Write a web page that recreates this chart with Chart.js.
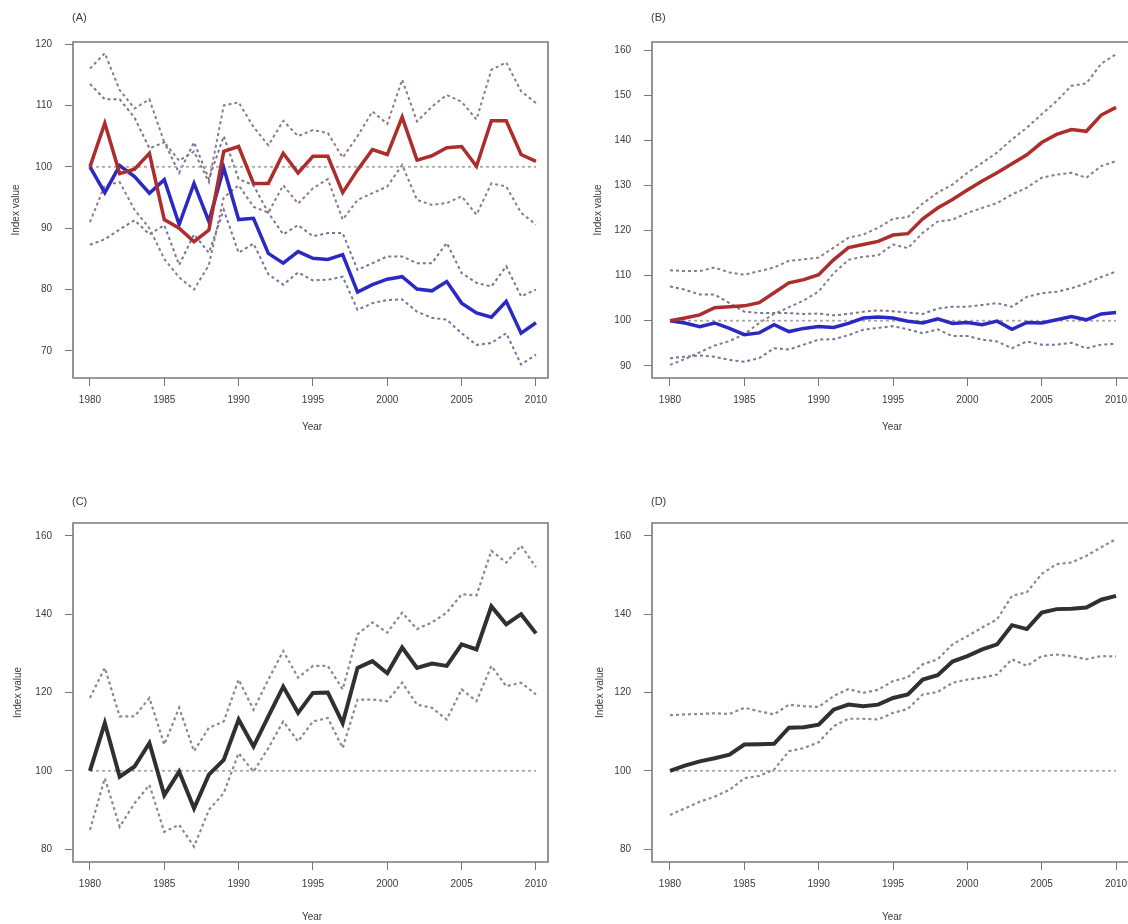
<!DOCTYPE html>
<html>
<head>
<meta charset="utf-8">
<script src="https://cdn.jsdelivr.net/npm/chart.js@4.4.1/dist/chart.umd.min.js"></script>
<style>
html, body { margin: 0; padding: 0; background: #fff; overflow: hidden; width: 1128px; height: 924px; }
.panel { position: absolute; }
</style>
</head>
<body>
<div class="panel" style="left:0;top:0"><canvas id="chartA" width="560" height="450"></canvas></div>
<div class="panel" style="left:560px;top:0;width:568px;overflow:hidden"><canvas id="chartB" width="600" height="450"></canvas></div>
<div class="panel" style="left:0;top:450px"><canvas id="chartC" width="560" height="474"></canvas></div>
<div class="panel" style="left:560px;top:450px;width:568px;overflow:hidden"><canvas id="chartD" width="600" height="474"></canvas></div>
<script>
const years = [1980,1981,1982,1983,1984,1985,1986,1987,1988,1989,1990,1991,1992,1993,1994,1995,
               1996,1997,1998,1999,2000,2001,2002,2003,2004,2005,2006,2007,2008,2009,2010];
const xTicks = [1980, 1985, 1990, 1995, 2000, 2005, 2010];
const aYTicks = [70, 80, 90, 100, 110, 120];
const bYTicks = [90, 100, 110, 120, 130, 140, 150, 160];
const cdYTicks = [80, 100, 120, 140, 160];

const refYears = [1980, 2010];
const refValues = [100, 100];

// (A)
const aRed    = [100, 107.1, 98.9, 99.6, 102.2, 91.4, 90.0, 87.8, 89.7, 102.5, 103.3, 97.3, 97.3, 102.2, 99.0, 101.7,
                 101.7, 95.8, 99.5, 102.8, 102.0, 108.1, 101.1, 101.8, 103.1, 103.3, 100.1, 107.5, 107.5, 102.0, 100.9];
const aRedUp  = [116, 118.5, 112.5, 109.5, 111, 104, 101, 102.5, 97.5, 110, 110.5, 106.5, 103.5, 107.5, 105, 106,
                 105.5, 101.5, 105, 109, 107, 114.2, 107.4, 109.8, 111.7, 110.6, 107.7, 115.8, 117, 112.3, 110.4];
const aRedLo  = [91, 97, 97.5, 93, 90, 85, 82, 80, 84, 95, 97, 93.5, 92.5, 97, 94, 96.5,
                 98, 91.4, 94.6, 95.7, 96.8, 100.3, 94.6, 93.8, 94.1, 95.2, 92.2, 97.3, 96.8, 92.5, 90.6];
const aBlue   = [100, 95.8, 100.2, 98.4, 95.7, 97.9, 90.6, 97.3, 91.1, 99.8, 91.4, 91.6, 85.9, 84.3, 86.2, 85.1,
                 84.9, 85.7, 79.6, 80.8, 81.7, 82.1, 80.1, 79.8, 81.3, 77.8, 76.2, 75.5, 78.1, 72.9, 74.6];
const aBlueUp = [113.5, 111, 111, 108, 103, 104, 99, 104, 98, 105, 98, 97, 92.5, 89, 90.5, 88.7,
                 89.2, 89.2, 83.2, 84.3, 85.4, 85.4, 84.3, 84.3, 87.6, 82.7, 81.1, 80.5, 83.8, 78.9, 80];
const aBlueLo = [87.3, 88.2, 89.8, 91.3, 89, 90.5, 84, 89, 86, 93, 86, 87.5, 82.5, 80.8, 82.8, 81.5,
                 81.6, 82.1, 76.7, 77.8, 78.3, 78.4, 76.4, 75.4, 75.1, 72.9, 71, 71.3, 72.9, 67.8, 69.4];

// (B)
const bRed    = [100, 100.6, 101.3, 102.9, 103.1, 103.3, 104.0, 106.2, 108.4, 109.1, 110.2, 113.5, 116.2, 116.9, 117.6, 119.0,
                 119.3, 122.6, 125.0, 126.9, 129.0, 131.0, 132.8, 134.8, 136.8, 139.5, 141.3, 142.4, 142.0, 145.6, 147.3];
const bRedUp  = [111.2, 111.0, 111.0, 111.8, 110.7, 110.2, 111.0, 111.8, 113.3, 113.6, 114.0, 116.2, 118.4, 119.1, 120.6, 122.6,
                 123.0, 126.0, 128.4, 130.2, 132.8, 135.0, 137.3, 140.2, 142.8, 145.8, 148.7, 152.1, 152.6, 157.0, 159.1];
const bRedLo  = [90.2, 91.5, 93.0, 94.5, 95.5, 97.0, 99.5, 101.5, 103.0, 104.5, 106.5, 110.5, 113.5, 114.2, 114.5, 116.9,
                 116.1, 119.5, 122.0, 122.4, 123.9, 125.0, 126.1, 128.0, 129.5, 131.7, 132.4, 132.8, 131.7, 134.3, 135.4];
const bBlue   = [100, 99.5, 98.7, 99.5, 98.3, 96.9, 97.3, 99.1, 97.6, 98.3, 98.7, 98.5, 99.4, 100.6, 100.8, 100.6,
                 99.9, 99.5, 100.4, 99.4, 99.6, 99.1, 99.9, 98.1, 99.6, 99.5, 100.2, 100.9, 100.2, 101.5, 101.8];
const bBlueUp = [107.6, 106.9, 105.8, 105.8, 103.9, 102.0, 101.7, 101.7, 101.7, 101.5, 101.6, 101.2, 101.5, 102.0, 102.3, 102.1,
                 101.8, 101.5, 102.7, 103.1, 103.1, 103.5, 103.9, 103.1, 105.3, 106.1, 106.4, 107.2, 108.3, 109.7, 110.9];
const bBlueLo = [91.7, 92.0, 92.3, 92.0, 91.3, 90.9, 91.7, 93.9, 93.6, 94.7, 95.8, 95.9, 96.8, 98.0, 98.4, 98.8,
                 98.1, 97.2, 98.1, 96.6, 96.6, 95.8, 95.4, 93.9, 95.4, 94.7, 94.7, 95.1, 93.9, 94.7, 94.9];

// (C)
const cMean = [100, 112.2, 98.5, 101.1, 107.1, 93.8, 99.8, 90.4, 99.0, 102.8, 113.1, 106.2, 113.9, 121.5, 114.8, 119.9,
               120.0, 112.2, 126.3, 128.0, 124.9, 131.5, 126.3, 127.4, 126.8, 132.3, 131.0, 142.0, 137.4, 140.0, 135.1];
const cUp   = [118.6, 126.3, 113.9, 113.9, 118.6, 106.7, 116.1, 105.0, 111.0, 112.6, 123.3, 115.6, 123.3, 130.6, 123.8, 126.8,
               126.8, 120.8, 134.9, 137.9, 135.3, 140.4, 136.2, 137.9, 140.4, 145.1, 144.8, 156.2, 153.2, 157.5, 152.0];
const cLo   = [84.9, 98.1, 85.7, 91.7, 96.4, 84.4, 86.2, 80.6, 90.0, 94.3, 104.5, 99.8, 105.8, 112.6, 107.5, 112.6,
               113.5, 105.8, 118.2, 118.2, 117.8, 122.5, 116.9, 116.1, 113.1, 120.8, 117.8, 126.8, 121.6, 122.5, 119.5];

// (D)
const dMean = [100, 101.3, 102.4, 103.2, 104.1, 106.7, 106.8, 106.9, 111.0, 111.1, 111.8, 115.6, 116.9, 116.5, 116.9, 118.6,
               119.5, 123.3, 124.4, 127.9, 129.3, 131.0, 132.3, 137.2, 136.2, 140.4, 141.3, 141.4, 141.7, 143.7, 144.7];
const dUp   = [114.2, 114.4, 114.5, 114.7, 114.5, 116.1, 115.2, 114.4, 116.9, 116.5, 116.3, 119.1, 120.9, 119.9, 120.7, 122.9,
               123.9, 127.2, 128.5, 132.3, 134.4, 136.6, 138.7, 144.7, 145.6, 150.3, 152.8, 153.2, 154.9, 157.1, 159.2];
const dLo   = [88.7, 90.4, 92.1, 93.4, 95.1, 98.1, 98.7, 100.3, 105.0, 105.8, 107.3, 111.4, 113.3, 113.3, 113.1, 114.8,
               115.8, 119.5, 120.1, 122.5, 123.3, 123.8, 124.6, 128.5, 126.8, 129.3, 129.7, 129.3, 128.5, 129.3, 129.2];

const FONT = '"Liberation Sans", Arial, sans-serif';
const RED = '#ad2c2c', BLUE = '#2a2ac2', BLACK = '#303030';
const RED_CI = '#937880', BLUE_CI = '#75759a', GRAY_CI = '#8a8a8a', REF = '#a8a8a8';

function series(values, color, width, dash, xs) {
    xs = xs || years;
    return {
        data: values.map((v, i) => ({ x: xs[i], y: v })),
        borderColor: color,
        borderWidth: width,
        borderDash: dash || [],
        pointRadius: 0,
        fill: false,
        tension: 0
    };
}

// box round the plot region + panel tag and axis titles, R style
const boxPlugin = {
    id: 'panelBox',
    afterDraw(chart, args, o) {
        const ctx = chart.ctx;
        const a = chart.chartArea;
        ctx.save();
        ctx.strokeStyle = '#7a7a7a';
        ctx.lineWidth = 1.6;
        ctx.beginPath();
        if (o.openRight) {
            // the right edge is cropped off in the original
            ctx.moveTo(a.right, a.top);
            ctx.lineTo(a.left, a.top);
            ctx.lineTo(a.left, a.bottom);
            ctx.lineTo(a.right, a.bottom);
        } else {
            ctx.rect(a.left, a.top, a.right - a.left, a.bottom - a.top);
        }
        ctx.stroke();
        ctx.fillStyle = '#3a3a3a';
        ctx.textBaseline = 'middle';
        ctx.font = '11px ' + FONT;
        ctx.textAlign = 'left';
        ctx.fillText(o.tag, a.left - 1, o.tagY);
        ctx.font = '10px ' + FONT;
        ctx.textAlign = 'center';
        ctx.fillText('Year', o.xTitleX, o.xTitleY);
        ctx.translate(o.yTitleX, (a.top + a.bottom) / 2);
        ctx.rotate(-Math.PI / 2);
        ctx.fillText('Index value', 0, 0);
        ctx.restore();
    }
};

function makePanel(id, p) {
    const tickFont = { family: FONT, size: 10 };
    const grid = { display: true, drawOnChartArea: false, drawTicks: true, tickLength: 8, color: '#777', tickWidth: 1 };
    return new Chart(document.getElementById(id), {
        type: 'line',
        data: { datasets: p.datasets },
        options: {
            responsive: false,
            animation: false,
            layout: { padding: { top: p.top, right: p.right, left: 0, bottom: 0 } },
            plugins: {
                legend: { display: false },
                tooltip: { enabled: false },
                panelBox: { tag: p.tag, tagY: p.tagY, xTitleX: p.xTitleX, xTitleY: p.xTitleY,
                            yTitleX: p.yTitleX, openRight: p.openRight }
            },
            scales: {
                x: {
                    type: 'linear', min: p.xMin, max: p.xMax,
                    afterBuildTicks: s => { s.ticks = xTicks.map(v => ({ value: v })); },
                    afterFit: s => { s.height = p.xAxisH; },
                    grid: grid, border: { display: false },
                    ticks: { color: '#3a3a3a', font: tickFont, padding: 8, maxRotation: 0, callback: v => String(v) }
                },
                y: {
                    type: 'linear', min: p.yMin, max: p.yMax,
                    afterBuildTicks: s => { s.ticks = p.yTicks.map(v => ({ value: v })); },
                    afterFit: s => { s.width = p.yAxisW; },
                    grid: grid, border: { display: false },
                    ticks: { color: '#3a3a3a', font: tickFont, padding: 13, callback: v => String(v) }
                }
            }
        },
        plugins: [boxPlugin]
    });
}

const dot = [3, 3];

makePanel('chartA', {
    tag: '(A)', tagY: 18, xTitleX: 312, xTitleY: 427, yTitleX: 16,
    top: 42, right: 12, yAxisW: 73, xAxisH: 72,
    xMin: 1978.86, xMax: 2010.81, yMin: 65.6, yMax: 120.33, yTicks: aYTicks,
    datasets: [
        series(aRed, RED, 3.5),
        series(aBlue, BLUE, 3.5),
        series(refValues, REF, 1.8, dot, refYears),
        series(aRedUp, RED_CI, 2, dot),
        series(aRedLo, RED_CI, 2, dot),
        series(aBlueUp, BLUE_CI, 2, dot),
        series(aBlueLo, BLUE_CI, 2, dot)
    ]
});

makePanel('chartB', {
    tag: '(B)', tagY: 18, xTitleX: 332, xTitleY: 427, yTitleX: 38, openRight: true,
    top: 42, right: 20, yAxisW: 92, xAxisH: 72,
    xMin: 1978.79, xMax: 2011.61, yMin: 87.3, yMax: 161.8, yTicks: bYTicks,
    datasets: [
        series(bRed, RED, 3.5),
        series(bBlue, BLUE, 3.5),
        series(refValues, REF, 1.8, dot, refYears),
        series(bRedUp, RED_CI, 2, dot),
        series(bRedLo, RED_CI, 2, dot),
        series(bBlueUp, BLUE_CI, 2, dot),
        series(bBlueLo, BLUE_CI, 2, dot)
    ]
});

makePanel('chartC', {
    tag: '(C)', tagY: 52, xTitleX: 312, xTitleY: 467, yTitleX: 18,
    top: 73, right: 12, yAxisW: 73, xAxisH: 62,
    xMin: 1978.86, xMax: 2010.81, yMin: 76.7, yMax: 163.3, yTicks: cdYTicks,
    datasets: [
        series(cMean, BLACK, 4),
        series(refValues, REF, 1.8, dot, refYears),
        series(cUp, GRAY_CI, 2.2, dot),
        series(cLo, GRAY_CI, 2.2, dot)
    ]
});

makePanel('chartD', {
    tag: '(D)', tagY: 52, xTitleX: 332, xTitleY: 467, yTitleX: 40, openRight: true,
    top: 73, right: 20, yAxisW: 92, xAxisH: 62,
    xMin: 1978.79, xMax: 2011.61, yMin: 76.7, yMax: 163.3, yTicks: cdYTicks,
    datasets: [
        series(dMean, BLACK, 4),
        series(refValues, REF, 1.8, dot, refYears),
        series(dUp, GRAY_CI, 2.2, dot),
        series(dLo, GRAY_CI, 2.2, dot)
    ]
});
</script>
</body>
</html>
